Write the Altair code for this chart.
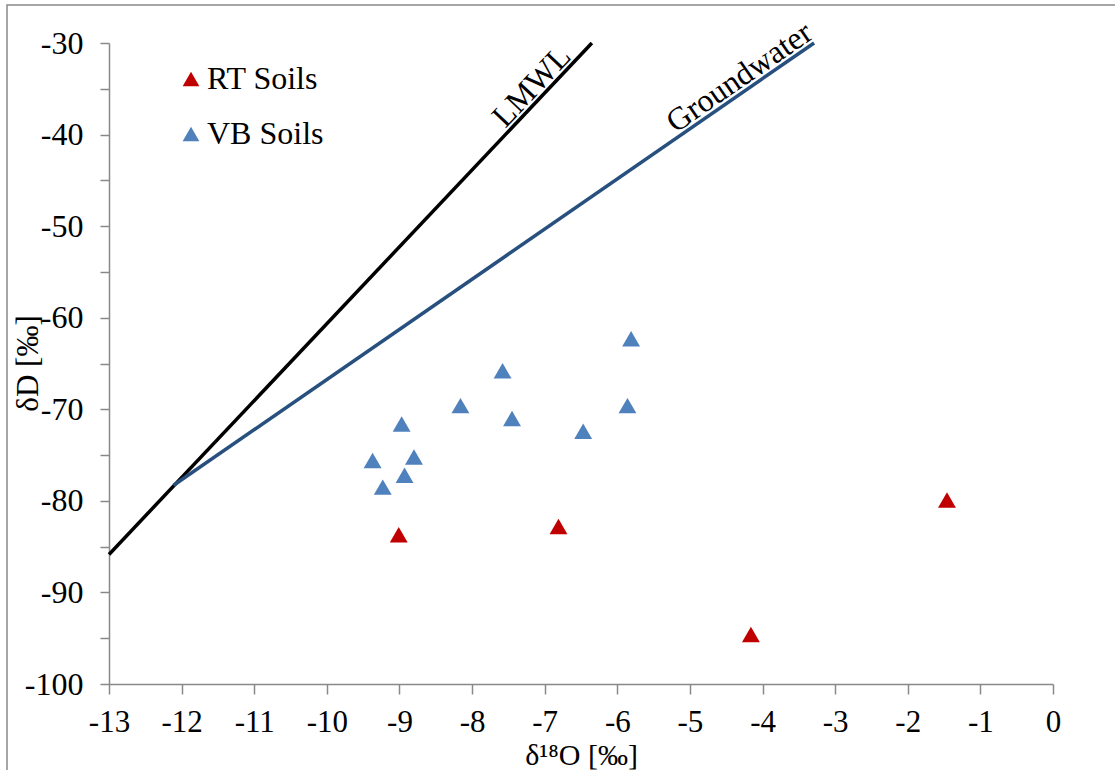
import altair as alt
import pandas as pd

# ---- data ----
rt_x = [-9.01, -6.81, -4.16, -1.46]
rt_y = [-83.7, -82.8, -94.6, -79.9]
vb_x = [-9.37, -9.23, -8.97, -8.80, -8.93, -8.16, -7.58, -7.45, -6.47, -5.86, -5.81]
vb_y = [-75.6, -78.5, -71.6, -75.2, -77.2, -69.6, -65.8, -71.0, -72.4, -69.6, -62.3]
series_names = ["RT Soils", "VB Soils"]

lmwl_x = [-13.0, -6.35]
lmwl_y = [-85.85, -30.0]
gw_x = [-12.11, -3.29]
gw_y = [-78.3, -30.0]

line_labels = ["LMWL", "Groundwater"]
line_label_x = [-7.04, -4.21]
line_label_y = [-35.8, -35.0]

x_ticks = list(range(-13, 1))
y_ticks = list(range(-100, -29, 5))

# ---- tables ----
pts = pd.DataFrame({
    "x": rt_x + vb_x,
    "y": rt_y + vb_y,
    "series": [series_names[0]] * len(rt_x) + [series_names[1]] * len(vb_x),
})
lmwl = pd.DataFrame({"x": lmwl_x, "y": lmwl_y})
gw = pd.DataFrame({"x": gw_x, "y": gw_y})
lab_lmwl = pd.DataFrame({"x": [line_label_x[0]], "y": [line_label_y[0]], "t": [line_labels[0]]})
lab_gw = pd.DataFrame({"x": [line_label_x[1]], "y": [line_label_y[1]], "t": [line_labels[1]]})
one = pd.DataFrame({"a": [0]})

FONT = "Liberation Serif"
GRAY = "#898989"
FS = 32

xscale = alt.Scale(domain=[-13, 0], nice=False, zero=False)
yscale = alt.Scale(domain=[-100, -30], nice=False, zero=False)

x_axis = alt.Axis(values=x_ticks, title="δ¹⁸O [‰]", labelExpr="'' + datum.value",
                  labelFlush=False, labelOverlap=False, labelFontSize=31,
                  tickSize=10, labelPadding=13, titleY=80, titleBaseline="alphabetic",
                  titleFontSize=30)
y_axis = alt.Axis(values=y_ticks, title="δD [‰]",
                  labelExpr="datum.value % 10 == 0 ? '' + datum.value : ''",
                  labelFlush=False, labelOverlap=False,
                  tickSize=9, labelPadding=17, titleX=-72, titleY=320,
                  titleAngle=270, titleAlign="center", titleBaseline="alphabetic",
                  titleFontSize=31)

X = alt.X("x:Q", scale=xscale, axis=x_axis)
Y = alt.Y("y:Q", scale=yscale, axis=y_axis)

border = alt.Chart(one).mark_rect(fillOpacity=0, stroke=GRAY, strokeWidth=1.5, clip=False).encode(
    x=alt.value(-102), x2=alt.value(1100), y=alt.value(-38), y2=alt.value(800)
)

lmwl_line = alt.Chart(lmwl).mark_line(color="black", strokeWidth=3.5).encode(x=X, y=Y)
gw_line = alt.Chart(gw).mark_line(color="#27507f", strokeWidth=3.5).encode(x=X, y=Y)

lmwl_text = alt.Chart(lab_lmwl).mark_text(font=FONT, fontSize=FS, angle=313.3, align="center",
                                          baseline="alphabetic", dy=-4, color="black").encode(
    x=X, y=Y, text="t:N")
gw_text = alt.Chart(lab_gw).mark_text(font=FONT, fontSize=FS, angle=325.4, align="center",
                                      baseline="alphabetic", dy=-4, color="black").encode(
    x=X, y=Y, text="t:N")

points = alt.Chart(pts).mark_point(shape="triangle-up", filled=True, size=320, opacity=1).encode(
    x=X, y=Y,
    color=alt.Color("series:N",
                    scale=alt.Scale(domain=series_names, range=["#C00000", "#4F81BD"]),
                    legend=alt.Legend(title=None, orient="none", legendX=66, legendY=20,
                                      symbolType="triangle-up", symbolSize=280,
                                      labelFont=FONT, labelFontSize=FS, labelColor="black",
                                      rowPadding=23, labelOffset=0, padding=0,
                                      symbolStrokeWidth=0, symbolOpacity=1)),
)

chart = alt.layer(border, lmwl_line, gw_line, lmwl_text, gw_text, points).properties(
    width=944, height=641,
    padding={"left": 109, "top": 43, "right": 62, "bottom": 86},
    autosize=alt.AutoSizeParams(type="none"),
    background="white",
).configure_view(strokeOpacity=0).configure_axis(
    grid=False, domainColor=GRAY, domainWidth=1.5, tickColor=GRAY, tickWidth=1.5,
    labelFont=FONT, labelFontSize=FS, labelColor="black",
    titleFont=FONT, titleFontSize=FS, titleFontWeight="normal", titleColor="black",
)

chart.save("out.html", embed_options={"renderer": "svg", "actions": False})
